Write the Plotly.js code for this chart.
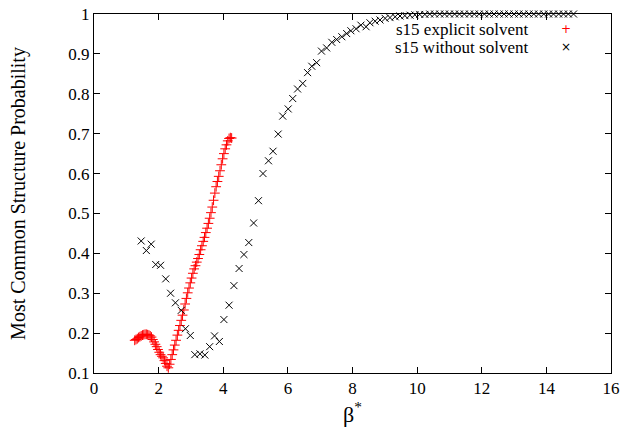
<!DOCTYPE html>
<html>
<head>
<meta charset="utf-8">
<script src="https://cdn.plot.ly/plotly-3.0.1.min.js"></script>
<style>
  html, body { margin: 0; padding: 0; background: #ffffff; }
  #chart { width: 625px; height: 430px; }
</style>
</head>
<body>
<div id="chart"></div>
<script>
// s15 with explicit solvent: most common structure probability vs beta*
const explicitBeta = [
  1.26, 1.30, 1.34, 1.38, 1.42, 1.46, 1.50, 1.54, 1.58, 1.62,
  1.66, 1.70, 1.74, 1.78, 1.82, 1.86, 1.90, 1.94, 1.98, 2.02,
  2.06, 2.10, 2.14, 2.18, 2.22, 2.26, 2.30, 2.34, 2.38, 2.42,
  2.46, 2.50, 2.54, 2.58, 2.62, 2.66, 2.70, 2.74, 2.78, 2.82,
  2.86, 2.90, 2.94, 2.98, 3.02, 3.06, 3.10, 3.14, 3.18, 3.22,
  3.26, 3.30, 3.34, 3.38, 3.42, 3.46, 3.50, 3.54, 3.58, 3.62,
  3.66, 3.70, 3.74, 3.78, 3.82, 3.86, 3.90, 3.94, 3.98, 4.02,
  4.06, 4.10, 4.14, 4.18, 4.22, 4.26
];
const explicitProb = [
  0.182, 0.184, 0.186, 0.189, 0.191, 0.193, 0.195, 0.196, 0.197, 0.197,
  0.196, 0.195, 0.193, 0.190, 0.184, 0.178, 0.172, 0.166, 0.159, 0.152,
  0.146, 0.142, 0.138, 0.131, 0.124, 0.117, 0.113, 0.122, 0.134, 0.146,
  0.158, 0.170, 0.182, 0.195, 0.207, 0.219, 0.232, 0.245, 0.258, 0.273,
  0.287, 0.301, 0.313, 0.326, 0.338, 0.350, 0.361, 0.369, 0.378, 0.387,
  0.397, 0.409, 0.419, 0.430, 0.440, 0.452, 0.463, 0.475, 0.488, 0.502,
  0.516, 0.533, 0.551, 0.567, 0.580, 0.593, 0.607, 0.622, 0.637, 0.650,
  0.662, 0.672, 0.682, 0.688, 0.690, 0.689
];

// s15 without solvent
const vacuumBeta = [
  1.46, 1.62, 1.77, 1.91, 2.06, 2.22, 2.37, 2.52, 2.70, 2.83,
  2.98, 3.12, 3.28, 3.43, 3.58, 3.73, 3.88, 4.02, 4.18, 4.33,
  4.49, 4.64, 4.79, 4.94, 5.09, 5.23, 5.40, 5.54, 5.70, 5.84,
  6.01, 6.15, 6.30, 6.46, 6.61, 6.74, 6.89, 7.04, 7.20, 7.36,
  7.51, 7.67, 7.82, 7.95, 8.11, 8.26, 8.42, 8.54, 8.70, 8.85,
  9.01, 9.16, 9.32, 9.47, 9.62, 9.78, 9.93, 10.08, 10.24, 10.39,
  10.54, 10.70, 10.85, 11.00, 11.16, 11.31, 11.46, 11.62, 11.77, 11.92,
  12.08, 12.23, 12.38, 12.54, 12.69, 12.84, 13.00, 13.15, 13.30, 13.46,
  13.61, 13.76, 13.92, 14.07, 14.22, 14.38, 14.53, 14.68, 14.84
];
const vacuumProb = [
  0.431, 0.407, 0.423, 0.372, 0.370, 0.336, 0.300, 0.276, 0.257, 0.211,
  0.194, 0.146, 0.148, 0.145, 0.166, 0.193, 0.179, 0.234, 0.270, 0.319,
  0.362, 0.397, 0.427, 0.476, 0.532, 0.600, 0.632, 0.656, 0.699, 0.744,
  0.762, 0.788, 0.812, 0.826, 0.853, 0.869, 0.878, 0.907, 0.915, 0.929,
  0.936, 0.943, 0.951, 0.958, 0.963, 0.972, 0.968, 0.978, 0.982, 0.985,
  0.989, 0.991, 0.993, 0.995, 0.996, 0.997, 0.998, 0.999, 0.999, 1.000,
  1.000, 1.000, 1.000, 1.000, 1.000, 1.000, 1.000, 1.000, 1.000, 1.000,
  1.000, 1.000, 1.000, 1.000, 1.000, 1.000, 1.000, 1.000, 1.000, 1.000,
  1.000, 1.000, 1.000, 1.000, 1.000, 1.000, 1.000, 1.000, 1.000
];

const seriesNames = ['s15 explicit solvent', 's15 without solvent'];
const xTickVals = [0, 2, 4, 6, 8, 10, 12, 14, 16];
const yTickVals = [0.1, 0.2, 0.3, 0.4, 0.5, 0.6, 0.7, 0.8, 0.9, 1];
const yTickText = ['0.1', '0.2', '0.3', '0.4', '0.5', '0.6', '0.7', '0.8', '0.9', '1'];

const serif = '"Liberation Serif", "Times New Roman", serif';

const traces = [
  {
    x: explicitBeta, y: explicitProb, name: seriesNames[0],
    type: 'scatter', mode: 'markers', cliponaxis: false,
    marker: { symbol: 'cross-thin', size: 7, color: '#ff0000',
              line: { color: '#ff0000', width: 1 } }
  },
  {
    x: vacuumBeta, y: vacuumProb, name: seriesNames[1],
    type: 'scatter', mode: 'markers', cliponaxis: false,
    marker: { symbol: 'x-thin', size: 7, color: '#000000',
              line: { color: '#000000', width: 1 } }
  }
];

const axisCommon = {
  showgrid: false, zeroline: false,
  showline: true, linecolor: '#000000', linewidth: 1,
  mirror: 'ticks', ticks: 'inside', ticklen: 6, tickwidth: 1, tickcolor: '#000000',
  tickfont: { family: serif, size: 17, color: '#000000' }
};

const layout = {
  width: 625, height: 430,
  margin: { l: 94, r: 14, t: 14, b: 57 },
  paper_bgcolor: '#ffffff', plot_bgcolor: '#ffffff',
  showlegend: false,
  xaxis: Object.assign({}, axisCommon, {
    range: [0, 16], tickmode: 'array', tickvals: xTickVals,
    title: { text: 'β<sup>*</sup>', font: { family: serif, size: 22, color: '#000000' }, standoff: 6 }
  }),
  yaxis: Object.assign({}, axisCommon, {
    range: [0.1, 1], tickmode: 'array', tickvals: yTickVals, ticktext: yTickText,
    title: { text: 'Most Common Structure Probability', font: { family: serif, size: 20, color: '#000000' }, standoff: 37 }
  }),
  annotations: [
    { xref: 'paper', yref: 'paper', x: 0.843, y: 0.958, xanchor: 'right', yanchor: 'middle',
      text: seriesNames[0], showarrow: false, font: { family: serif, size: 17, color: '#000000' } },
    { xref: 'paper', yref: 'paper', x: 0.843, y: 0.908, xanchor: 'right', yanchor: 'middle',
      text: seriesNames[1], showarrow: false, font: { family: serif, size: 17, color: '#000000' } },
    { xref: 'paper', yref: 'paper', x: 0.913, y: 0.958, xanchor: 'center', yanchor: 'middle',
      text: '+', showarrow: false, font: { family: 'DejaVu Sans, sans-serif', size: 12, color: '#ff0000' } },
    { xref: 'paper', yref: 'paper', x: 0.913, y: 0.908, xanchor: 'center', yanchor: 'middle',
      text: '×', showarrow: false, font: { family: 'DejaVu Sans, sans-serif', size: 12, color: '#000000' } }
  ]
};

Plotly.newPlot('chart', traces, layout, { displayModeBar: false, staticPlot: true });
</script>
</body>
</html>
